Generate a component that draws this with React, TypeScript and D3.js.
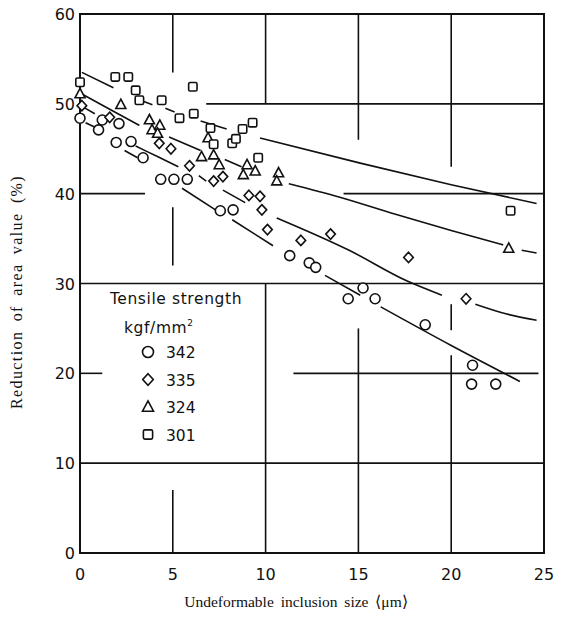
import * as d3 from "d3";

// measured points, [size um, reduction %]
const s342: [number, number][] = [
  [0, 48.4], [1.0, 47.1], [1.2, 48.2], [2.1, 47.8], [1.95, 45.7], [2.75, 45.8], [3.4, 44.0],
  [4.35, 41.6], [5.06, 41.6], [5.78, 41.6], [7.56, 38.1], [8.25, 38.2], [11.3, 33.1],
  [12.35, 32.3], [12.7, 31.8], [14.45, 28.3], [15.25, 29.5], [15.9, 28.3], [18.6, 25.4],
  [21.15, 20.9], [21.1, 18.8], [22.4, 18.8],
];
const s335: [number, number][] = [
  [0.1, 49.8], [1.6, 48.5], [4.27, 45.6], [4.9, 45.0], [5.9, 43.1], [7.2, 41.4], [7.7, 41.9],
  [9.1, 39.8], [9.7, 39.7], [9.8, 38.2], [10.1, 36.0], [11.9, 34.8], [13.5, 35.5],
  [17.7, 32.9], [20.8, 28.3],
];
const s324: [number, number][] = [
  [0, 51.1], [2.2, 49.9], [3.74, 48.2], [3.88, 47.1], [4.3, 47.6], [4.18, 46.7], [6.9, 46.2],
  [7.2, 44.3], [6.55, 44.1], [7.5, 43.2], [9.0, 43.2], [8.8, 42.1], [9.44, 42.5],
  [10.7, 42.3], [10.6, 41.4], [23.1, 33.9],
];
const s301: [number, number][] = [
  [0, 52.4], [1.9, 53.0], [2.6, 53.0], [3.0, 51.5], [3.2, 50.4], [4.4, 50.4], [5.36, 48.4],
  [6.08, 51.9], [6.13, 48.9], [7.03, 47.3], [7.2, 45.5], [8.2, 45.6], [8.4, 46.1],
  [8.76, 47.2], [9.3, 47.9], [9.6, 44.0], [23.2, 38.1],
];

// fitted curves, drawn piece by piece as in the print
const fit342 = [
  [[0.3, 47.9], [0.9, 47.3]],
  [[2.4, 44.8], [3.1, 44.0]],
  [[5.5, 40.6], [7.3, 38.2]],
  [[8.2, 37.1], [10.4, 34.2]],
  [[13.2, 30.9], [15.1, 28.7]],
  [[16.2, 27.4], [20, 23.1], [23.7, 19.1]],
];
const fit335 = [
  [[0.2, 49.6], [0.8, 48.9]],
  [[3.0, 45.3], [4.2, 44.1], [5.3, 43.0]],
  [[6.4, 42.0], [6.8, 41.4]],
  [[7.7, 40.4], [8.9, 39.0]],
  [[10.6, 37.3], [14.5, 33.7], [17.6, 30.3], [19.5, 28.7]],
  [[21.3, 27.7], [23, 26.6], [24.6, 25.9]],
];
const fit324 = [
  [[0.1, 51.1], [1.6, 49.4], [3.2, 47.6]],
  [[4.8, 46.3], [6.5, 44.8]],
  [[7.8, 43.8], [8.7, 43.0]],
  [[11.25, 41.1], [14, 39.6], [17, 37.7], [20, 35.9], [22.8, 34.3]],
  [[23.8, 33.7], [24.6, 33.4]],
];
const fit301 = [
  [[0.1, 53.5], [1.8, 51.8]],
  [[3.4, 50.3], [3.9, 49.9]],
  [[4.6, 49.5], [5.1, 49.1]],
  [[6.5, 48.1], [7.9, 47.2]],
  [[9.7, 46.2], [15.1, 43.4], [20, 41.0], [24.6, 38.9]],
];

const xTicks = [0, 5, 10, 15, 20, 25];
const yTicks = [0, 10, 20, 30, 40, 50, 60];

// broken grid lines of the original figure
const vGrid = [
  [5, 60, 53.5], [5, 38.5, 32], [5, 7, 0],
  [10, 60, 50], [10, 30, 0],
  [15, 60, 46], [15, 25, 0],
  [20, 60, 43], [20, 27.7, 24.8], [20, 22, 0],
];
const hGrid = [
  [50, 6.8, 25],
  [40, 0, 3.5], [40, 14.2, 25],
  [30, 0, 25],
  [20, 0, 1.2], [20, 11.5, 24.7],
  [10, 0, 25],
];

const legendLabels = ["342", "335", "324", "301"];

export default function App() {
  const x = d3.scaleLinear().domain([0, 25]).range([80, 544]);
  const y = d3.scaleLinear().domain([0, 60]).range([553, 14]);

  const line = d3
    .line<number[]>()
    .x((d) => x(d[0]))
    .y((d) => y(d[1]))
    .curve(d3.curveMonotoneX);

  const marker = (kind: number, cx: number, cy: number, key: string, k = 1) => {
    const st = { fill: "white", stroke: "#111", strokeWidth: 1.6 };
    if (kind === 0) return <circle key={key} cx={cx} cy={cy} r={5 * k} {...st} />;
    if (kind === 1)
      return (
        <path
          key={key}
          d={`M${cx},${cy - 5.2 * k}L${cx + 4.8 * k},${cy}L${cx},${cy + 5.2 * k}L${cx - 4.8 * k},${cy}Z`}
          {...st}
        />
      );
    if (kind === 2)
      return (
        <path
          key={key}
          d={`M${cx},${cy - 5.5 * k}L${cx + 5 * k},${cy + 3.8 * k}L${cx - 5 * k},${cy + 3.8 * k}Z`}
          {...st}
        />
      );
    return <rect key={key} x={cx - 4.2 * k} y={cy - 4.2 * k} width={8.4 * k} height={8.4 * k} rx={1.5} {...st} />;
  };

  const series = [s342, s335, s324, s301];
  const fits = [fit342, fit335, fit324, fit301];
  const tickFont = "'DejaVu Sans', sans-serif";

  return (
    <svg width={562} height={622} style={{ position: "absolute", left: 0, top: 0, background: "white" }}>
      {/* frame */}
      <rect x={x(0)} y={y(60)} width={x(25) - x(0)} height={y(0) - y(60)} fill="none" stroke="#111" strokeWidth={2} />
      {vGrid.map((g, i) => (
        <line key={"v" + i} x1={x(g[0])} x2={x(g[0])} y1={y(g[1])} y2={y(g[2])} stroke="#111" strokeWidth={1.6} />
      ))}
      {hGrid.map((g, i) => (
        <line key={"h" + i} x1={x(g[1])} x2={x(g[2])} y1={y(g[0])} y2={y(g[0])} stroke="#111" strokeWidth={1.6} />
      ))}

      {fits.map((segs, i) =>
        segs.map((s, j) => (
          <path key={`f${i}-${j}`} d={line(s) ?? ""} fill="none" stroke="#111" strokeWidth={1.6} />
        ))
      )}

      {series.map((pts, i) => pts.map((p, j) => marker(i, x(p[0]), y(p[1]), `m${i}-${j}`)))}

      {/* ticks */}
      {xTicks.map((t) => (
        <text key={"xt" + t} x={x(t)} y={580} textAnchor="middle" fontFamily={tickFont} fontSize={16} fill="#111">
          {t}
        </text>
      ))}
      {yTicks.map((t) => (
        <text key={"yt" + t} x={75} y={y(t) + 6} textAnchor="end" fontFamily={tickFont} fontSize={16} fill="#111">
          {t}
        </text>
      ))}

      {/* legend */}
      <g fontFamily={tickFont} fill="#111">
        <text x={176} y={304} textAnchor="middle" fontSize={15.5} letterSpacing={0.6}>Tensile strength</text>
        <text x={124} y={333} fontSize={15.5} letterSpacing={0.6}>
          kgf/mm
          <tspan dy={-7} fontSize={9}>2</tspan>
        </text>
        {legendLabels.map((l, i) => (
          <g key={l}>
            {marker(i, 148, 352 + i * 27.5, "lg" + i, 1.1)}
            <text x={166} y={358 + i * 27.5} fontSize={15.5}>{l}</text>
          </g>
        ))}
      </g>

      {/* axis titles */}
      <text
        transform="translate(22,292) rotate(-90)"
        textAnchor="middle"
        fontFamily="'Liberation Serif', serif"
        fontSize={16}
        letterSpacing={1.4}
        wordSpacing={4}
        fill="#111"
      >
        Reduction of area value (%)
      </text>
      <text
        x={296}
        y={607}
        textAnchor="middle"
        fontFamily="'Liberation Serif', serif"
        fontSize={15.5}
        wordSpacing={3}
        fill="#111"
      >
        Undeformable inclusion size ⟨μm⟩
      </text>
    </svg>
  );
}
